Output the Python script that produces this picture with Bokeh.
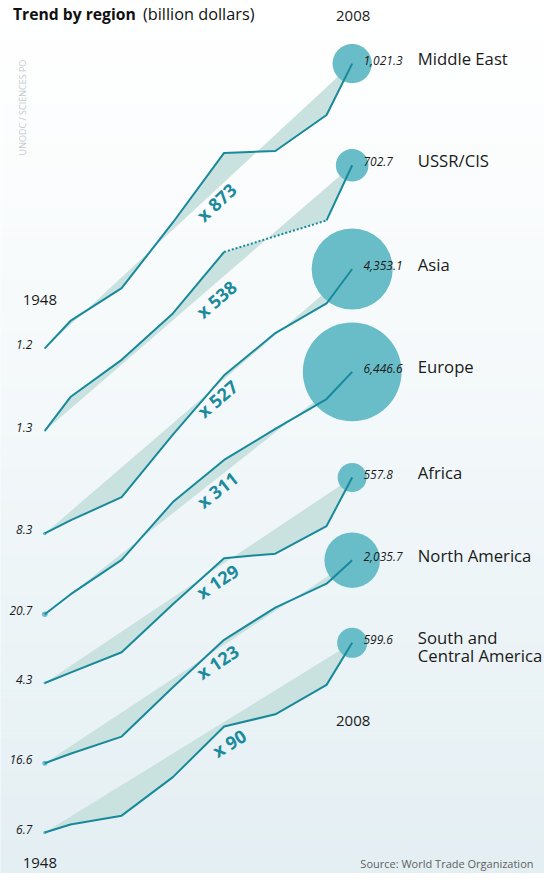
import math
import numpy as np
from bokeh.plotting import figure
from bokeh.models import Range1d, LogScale
from bokeh.core.properties import value
from bokeh.embed import file_html
from bokeh.resources import INLINE

# ---------------- data (billion dollars) ----------------
years = [1948, 1953, 1963, 1973, 1983, 1993, 2003, 2008]
regions = ["Middle East", "USSR/CIS", "Asia", "Europe", "Africa",
           "North America", "South and\nCentral America"]
middle_east = [1.2, 2.3, 5.0, 23.7, 123.0, 128.7, 302.0, 1021.3]
ussr_cis = [1.3, 2.9, 7.0, 21.0, 90.0, None, 190.0, 702.7]
asia = [8.3, 11.3, 19.6, 86.3, 351.0, 955.0, 1925.0, 4353.1]
europe = [20.7, 33.1, 75.0, 295.0, 800.0, 1669.0, 3386.0, 6446.6]
africa = [4.3, 5.5, 8.9, 27.8, 82.7, 92.0, 177.0, 557.8]
north_america = [16.6, 20.8, 31.2, 100.2, 308.8, 662.0, 1166.0, 2035.7]
south_central_america = [6.7, 8.1, 10.0, 24.9, 82.7, 110.3, 221.3, 599.6]
multipliers = ["x 873", "x 538", "x 527", "x 311", "x 129", "x 123", "x 90"]
start_labels = ["1.2", "1.3", "8.3", "20.7", "4.3", "16.6", "6.7"]
end_labels = ["1,021.3", "702.7", "4,353.1", "6,446.6", "557.8", "2,035.7", "599.6"]

series = [middle_east, ussr_cis, asia, europe, africa, north_america, south_central_america]

# ---------------- layout ----------------
W, H = 544, 873
S = H / 889.0                     # vertical fit factor
PX_PER_DECADE = 99.0 * S
PX_PER_YEAR = 5.123
X0_PX = 44.3                      # pixel position of first year
start_px = [v * S for v in [354.3, 438.3, 542.7, 625.0, 695.0, 776.7, 847.3]]
label_year = [1981.5, 1981.5, 1981.7, 1981.7, 1981.7, 1981.7, 1984.0]
label_drop = [13, 17, 14, 12, 14, 13, 25]
AREA_K = 0.626 * S                # bubble radius = AREA_K * sqrt(value)

LINE = "#17899b"
CIRCLE = "#69bdc8"
FILL = "#c9e2df"
MULT = "#1b8a9c"
FONT = value("Open Sans")

x_start = years[0] - X0_PX / PX_PER_YEAR
x_end = x_start + W / PX_PER_YEAR

p = figure(width=W, height=H, x_range=Range1d(x_start, x_end), y_range=Range1d(H, 0),
           output_backend="svg", toolbar_location=None,
           x_axis_location=None, y_axis_location=None, min_border=0,
           outline_line_color=None, background_fill_color="white",
           border_fill_color="white")
p.grid.visible = False
p.extra_x_ranges = {"px": Range1d(0, W)}

rng, scl = {}, {}
for i, vals in enumerate(series):
    lo = math.log10(vals[0]) - (H - start_px[i]) / PX_PER_DECADE
    hi = lo + H / PX_PER_DECADE
    rng[f"r{i}"] = Range1d(10 ** lo, 10 ** hi)
    scl[f"r{i}"] = LogScale()
p.extra_y_ranges = rng
p.extra_y_scales = scl

# background gradient
n = 110
edges = np.linspace(0, H, n + 1)
c0 = np.array([255, 255, 255])
c1 = np.array([228, 239, 243])
cols = ["#%02x%02x%02x" % tuple(np.round(c0 + (c1 - c0) * t).astype(int))
        for t in np.linspace(0, 1, n) ** 1.1]
p.quad(left=0, right=W, top=edges[:-1], bottom=edges[1:], fill_color=cols,
       line_color=cols, line_width=1, x_range_name="px")

for i, vals in enumerate(series):
    rn = f"r{i}"
    xs = [yr for yr, v in zip(years, vals) if v is not None]
    vs = [v for v in vals if v is not None]
    # shaded area between the trend and the straight 1948-2008 chord
    p.patch(xs, vs, fill_color=FILL, line_color=None, y_range_name=rn)
    # bubbles (area proportional to value)
    p.scatter([xs[0], xs[-1]], [vs[0], vs[-1]], marker="circle",
              size=[2 * AREA_K * math.sqrt(vs[0]), 2 * AREA_K * math.sqrt(vs[-1])],
              fill_color=CIRCLE, line_color=None, y_range_name=rn)
    # trend line (gaps -> dotted)
    ys = [np.nan if v is None else v for v in vals]
    p.line(years, ys, line_color=LINE, line_width=2, y_range_name=rn)
    for k, v in enumerate(vals):
        if v is None:
            p.line([years[k - 1], years[k + 1]], [vals[k - 1], vals[k + 1]],
                   line_color=LINE, line_width=2, line_dash="2 2", y_range_name=rn)
    # labels
    p.text([xs[0]], [vs[0]], text=[start_labels[i]], x_offset=-12.5, y_offset=-3.5,
           text_align="right", text_baseline="middle", text_font=FONT,
           text_font_style="italic", text_font_size="12px", text_color="#1a1a1a",
           y_range_name=rn)
    p.text([xs[-1]], [vs[-1]], text=[end_labels[i]], x_offset=11.3, y_offset=-3.5,
           text_align="left", text_baseline="middle", text_font=FONT,
           text_font_style="italic", text_font_size="12px", text_color="#1a1a1a",
           y_range_name=rn)
    for k, line in enumerate(regions[i].split("\n")):
        p.text([xs[-1]], [vs[-1]], text=[line], x_offset=65.6, y_offset=-5 + 18 * k,
               text_align="left", text_baseline="middle", text_font=FONT,
               text_font_size="16.7px", text_color="#1a1a1a", y_range_name=rn)
    # growth multiplier along the chord
    v0, v1 = vs[0], vs[-1]
    t = (label_year[i] - years[0]) / (years[-1] - years[0])
    chord_v = 10 ** (math.log10(v0) + t * math.log10(v1 / v0))
    ang = math.atan(PX_PER_DECADE * math.log10(v1 / v0) /
                    ((years[-1] - years[0]) * PX_PER_YEAR))
    p.text([label_year[i]], [chord_v], text=[multipliers[i]], angle=ang,
           y_offset=label_drop[i] * S, text_align="center", text_baseline="middle",
           text_font=FONT, text_font_style="bold", text_font_size="18px",
           text_color=MULT, y_range_name=rn)

# year markers
p.text([years[-1], years[-1]], [16 * S, 734 * S], text=[str(years[-1])] * 2, x_offset=1,
       text_align="center", text_baseline="middle", text_font=FONT,
       text_font_size="15px", text_color="#1a1a1a")
p.text([years[0], years[0]], [305 * S, 862], text=[str(years[0])] * 2, x_offset=-5,
       text_align="center", text_baseline="middle", text_font=FONT,
       text_font_size="15px", text_color="#1a1a1a")

# title
p.text([12.5], [14 * S], text=["Trend by region"], text_align="left", text_baseline="middle",
       text_font=FONT, text_font_style="bold", text_font_size="15.7px",
       text_color="#111111", x_range_name="px")
p.text([142.5], [14 * S], text=["(billion dollars)"], text_align="left", text_baseline="middle",
       text_font=FONT, text_font_size="16.3px", text_color="#111111", x_range_name="px")

# credits
p.text([21.7], [109 * S], text=["UNODC / SCIENCES PO"], angle=math.pi / 2,
       text_align="center", text_baseline="middle", text_font=FONT,
       text_font_size="9px", text_color="#c4cacd", x_range_name="px")
p.text([533], [863], text=["Source: World Trade Organization"], text_align="right",
       text_baseline="middle", text_font=FONT, text_font_size="11px",
       text_color="#5f5f5f", x_range_name="px")

open("out.html", "w").write(file_html(p, INLINE))
